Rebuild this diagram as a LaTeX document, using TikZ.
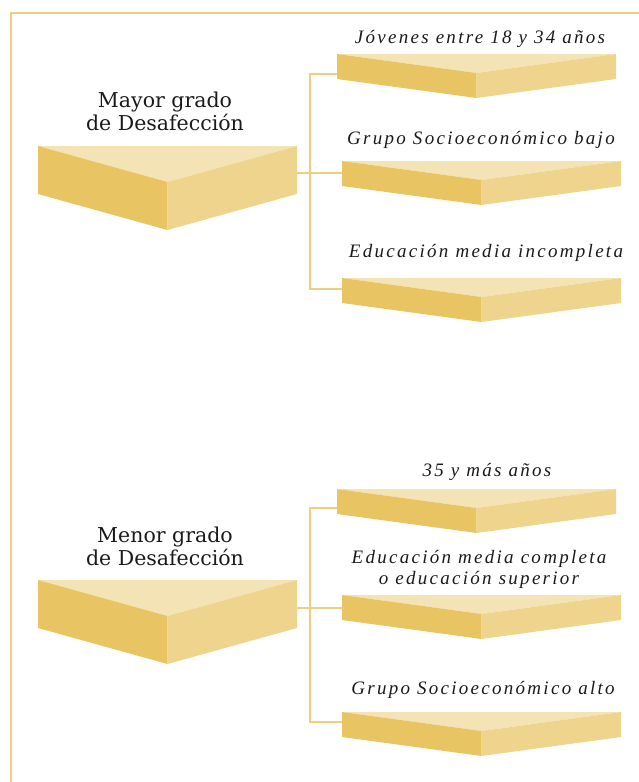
\documentclass[tikz,border=0pt]{standalone}
\usepackage{fontspec}
\setmainfont{DejaVu Serif}
\newfontfamily\itlbl[LetterSpace=12]{Liberation Serif}
\definecolor{topc}{HTML}{F3E3B5}
\definecolor{leftc}{HTML}{E8C462}
\definecolor{rightc}{HTML}{EED48C}
\definecolor{linec}{HTML}{EDCF80}
\definecolor{txtc}{HTML}{1A1A1A}
\newcommand{\chev}[5]{% x y w d h
  \fill[topc] (#1,#2) -- ++(#3,0) -- ++(-#3/2,#4) -- cycle;
  \fill[leftc] (#1,#2) -- ++(#3/2,#4) -- ++(0,#5) -- ++(-#3/2,-#4) -- cycle;
  \fill[rightc] (#1+#3,#2) -- ++(-#3/2,#4) -- ++(0,#5) -- ++(#3/2,-#4) -- cycle;
}
\tikzset{
  conn/.style={draw=linec, line width=1.2pt},
  mainlbl/.style={text=txtc, font=\fontsize{20.5}{23}\selectfont, align=center, inner sep=0pt, anchor=base},
  sublbl/.style={text=txtc, font=\itlbl\itshape\fontsize{19}{21}\selectfont, align=center, inner sep=0pt, anchor=base}
}
\begin{document}
\begin{tikzpicture}[x=1pt,y=-1pt]
\useasboundingbox (0,0) rectangle (639,782);
% frame
\draw[conn] (639,13) -- (11,13) -- (11,782);
% upper group
\chev{38}{146}{259}{36}{48}
\chev{337}{54}{279}{19}{25}
\chev{342}{161}{279}{19}{25}
\chev{342}{278}{279}{19}{25}
\node[mainlbl] (m1a) at (165,107) {Mayor grado};
\node[mainlbl] (m1b) at (165,130) {de Desafección};
\node[sublbl] (t1) at (480,43) {Jóvenes entre 18 y 34 años};
\node[sublbl] (t2) at (481,144) {Grupo Socioeconómico bajo};
\node[sublbl] (t3) at (486,257) {Educación media incompleta};
\coordinate (m1r) at (297,173);
\coordinate (b1l) at (337,74);
\coordinate (b2l) at (342,173);
\coordinate (b3l) at (342,289);
\draw[conn] (b1l) -- ++(-27,0) |- (b3l);
\draw[conn] (m1r) -- (b2l);
% lower group
\chev{38}{580}{259}{36}{48}
\chev{337}{489}{279}{19}{25}
\chev{342}{595}{279}{19}{25}
\chev{342}{712}{279}{19}{25}
\node[mainlbl] (m2a) at (165,542) {Menor grado};
\node[mainlbl] (m2b) at (165,565) {de Desafección};
\node[sublbl] (t4) at (487,476) {35 y más años};
\node[sublbl] (t5a) at (479,563) {Educación media completa};
\node[sublbl] (t5b) at (479,584) {o educación superior};
\node[sublbl] (t6) at (483,694) {Grupo Socioeconómico alto};
\coordinate (m2r) at (297,608);
\coordinate (b4l) at (337,508);
\coordinate (b5l) at (342,608);
\coordinate (b6l) at (342,722);
\draw[conn] (b4l) -- ++(-27,0) |- (b6l);
\draw[conn] (m2r) -- (b5l);
\end{tikzpicture}
\end{document}
